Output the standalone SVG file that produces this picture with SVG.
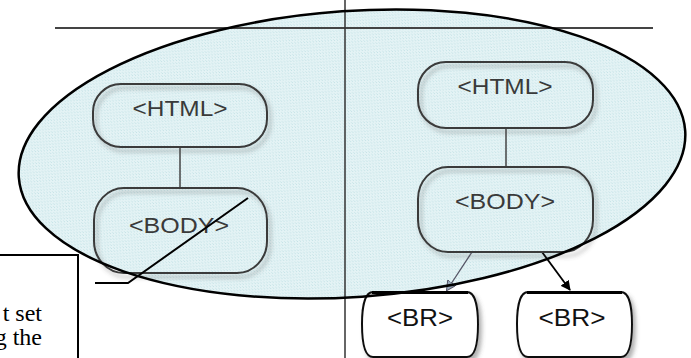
<svg xmlns="http://www.w3.org/2000/svg" width="691" height="358" viewBox="0 0 691 358">
  <style>
    .node { fill: none; stroke: #3a3a3a; stroke-width: 2; filter: url(#shadow); }
    .br { fill: #ffffff; stroke: #111; stroke-width: 2; filter: url(#shadow); }
    .label { font-family: "Liberation Sans", Arial, sans-serif; font-size: 22px; fill: #3a3a3a; text-anchor: middle; }
    .brlabel { font-family: "Liberation Sans", Arial, sans-serif; font-size: 23px; fill: #111; text-anchor: middle; }
    .note { font-family: "Liberation Serif", "Times New Roman", serif; font-size: 24px; fill: #000; text-anchor: end; }
    .conn { stroke: #444; stroke-width: 1.5; fill: none; }
  </style>
  <defs>
    <pattern id="dots" width="3" height="3" patternUnits="userSpaceOnUse">
      <rect width="3" height="3" fill="#e4f3f5"/>
      <rect x="0" y="0" width="1" height="1" fill="#c4e2e6"/>
      <rect x="2" y="2" width="1" height="1" fill="#cfe8eb"/>
    </pattern>
    <filter id="shadow" x="-20%" y="-20%" width="140%" height="150%">
      <feDropShadow dx="3" dy="4" stdDeviation="2" flood-color="#555" flood-opacity="0.45"/>
    </filter>
    <marker id="arrBlack" markerWidth="10" markerHeight="10" refX="9" refY="5" orient="auto" markerUnits="userSpaceOnUse" viewBox="0 0 10 10">
      <path d="M0,0 L10,5 L0,10 Z" fill="#000"/>
    </marker>
    <marker id="arrGray" markerWidth="10" markerHeight="10" refX="9" refY="5" orient="auto" markerUnits="userSpaceOnUse" viewBox="0 0 10 10">
      <path d="M0,0 L10,5 L0,10 Z" fill="#9ab" stroke="#556" stroke-width="1"/>
    </marker>
  </defs>

  <!-- ellipse fill -->
  <ellipse cx="352" cy="154" rx="334" ry="143" transform="rotate(-4 352 154)" fill="url(#dots)"/>

  <!-- frame lines -->
  <line x1="55" y1="28" x2="653" y2="28" stroke="#444" stroke-width="2"/>
  <line x1="345" y1="0" x2="345" y2="358" stroke="#333" stroke-width="1.5"/>

  <!-- connectors -->
  <g id="connectors">
    <line class="conn" x1="180" y1="147" x2="180" y2="188"/>
    <line class="conn" x1="506" y1="128" x2="506" y2="167"/>
    <line x1="472" y1="252" x2="447" y2="290" stroke="#556" stroke-width="1.3" marker-end="url(#arrGray)"/>
    <line x1="542" y1="252" x2="570" y2="290" stroke="#000" stroke-width="1.8" marker-end="url(#arrBlack)"/>
  </g>

  <!-- left tree -->
  <g id="html-left">
    <rect class="node" x="93" y="84" width="174" height="63" rx="28" ry="28"/>
    <text class="label" x="180" y="116" textLength="95" lengthAdjust="spacingAndGlyphs">&lt;HTML&gt;</text>
  </g>
  <g id="body-left">
    <rect class="node" x="94" y="188" width="173" height="85" rx="30" ry="32"/>
    <text class="label" x="179" y="233" textLength="100" lengthAdjust="spacingAndGlyphs">&lt;BODY&gt;</text>
  </g>

  <!-- right tree -->
  <g id="html-right">
    <rect class="node" x="418" y="62" width="175" height="66" rx="28" ry="28"/>
    <text class="label" x="505" y="94" textLength="95" lengthAdjust="spacingAndGlyphs">&lt;HTML&gt;</text>
  </g>
  <g id="body-right">
    <rect class="node" x="418" y="167" width="175" height="85" rx="30" ry="32"/>
    <text class="label" x="505" y="209" textLength="100" lengthAdjust="spacingAndGlyphs">&lt;BODY&gt;</text>
  </g>
  <g id="br-left">
    <path class="br" d="M373,292 H467 C476,292 478,310 478,324 C478,340 476,357 467,357 H373 C364,357 362,340 362,324 C362,310 364,292 373,292 Z"/>
    <line x1="372" y1="292.5" x2="468" y2="292.5" stroke="#000" stroke-width="3"/>
    <text class="brlabel" x="420" y="326" textLength="66" lengthAdjust="spacingAndGlyphs">&lt;BR&gt;</text>
  </g>
  <g id="br-right">
    <path class="br" d="M528,292 H621 C630,292 632,310 632,324 C632,340 630,357 621,357 H528 C519,357 517,340 517,324 C517,310 519,292 528,292 Z"/>
    <line x1="527" y1="292.5" x2="622" y2="292.5" stroke="#000" stroke-width="3"/>
    <text class="brlabel" x="572" y="326" textLength="67" lengthAdjust="spacingAndGlyphs">&lt;BR&gt;</text>
  </g>

  <!-- ellipse outline -->
  <ellipse cx="352" cy="154" rx="334" ry="143" transform="rotate(-4 352 154)" fill="none" stroke="#000" stroke-width="2.5"/>

  <!-- callout -->
  <g id="callout">
    <path d="M0,255 H78 V358" fill="none" stroke="#000" stroke-width="2"/>
    <polyline points="95,283 128,283 248,198" fill="none" stroke="#000" stroke-width="2"/>
    <text class="note" x="42" y="321">t set</text>
    <text class="note" x="42" y="345">g the</text>
  </g>
</svg>
